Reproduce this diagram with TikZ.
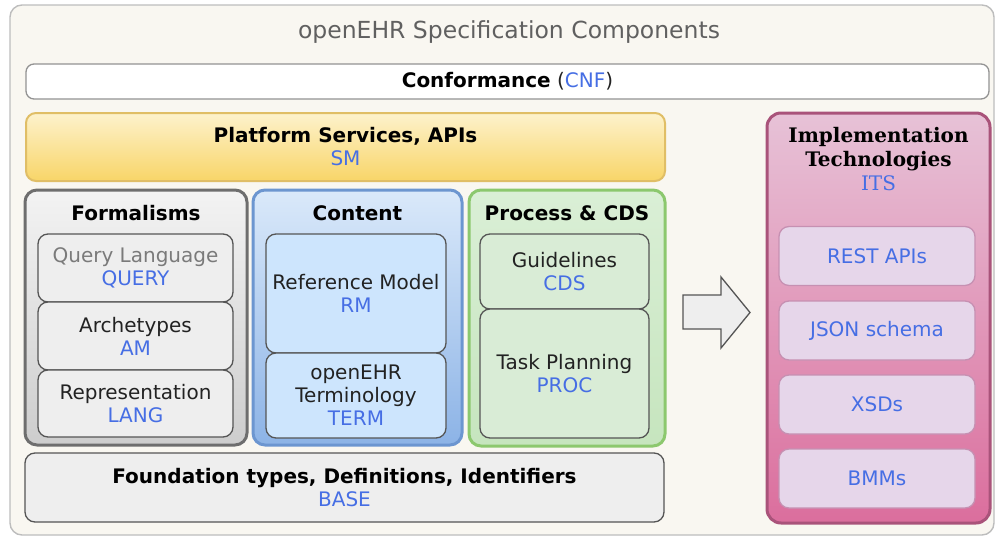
\documentclass[tikz,border=0pt]{standalone}
\usepackage{fontspec}
\setmainfont{DejaVu Sans}
\newfontfamily\itsserif{DejaVu Serif}
\definecolor{bgcream}{HTML}{F9F7F1}
\definecolor{bgborder}{HTML}{BDBDBD}
\definecolor{codeblue}{RGB}{70,110,228}
\definecolor{txt}{HTML}{222222}
\definecolor{qgray}{HTML}{7A7A7A}
\definecolor{titlegray}{HTML}{606060}
\definecolor{platTop}{HTML}{FDF2CC}
\definecolor{platBot}{HTML}{F8D568}
\definecolor{platBorder}{HTML}{E0BE66}
\definecolor{formTop}{HTML}{F3F3F3}
\definecolor{formBot}{HTML}{CDCDCD}
\definecolor{formBorder}{HTML}{6E6E6E}
\definecolor{innerGray}{HTML}{EEEEEE}
\definecolor{contTop}{HTML}{DAE9FA}
\definecolor{contBot}{HTML}{8CB3E6}
\definecolor{contBorder}{HTML}{6C96D0}
\definecolor{innerBlue}{HTML}{CDE5FD}
\definecolor{procTop}{HTML}{DAEFD6}
\definecolor{procBot}{HTML}{C6E5BE}
\definecolor{procBorder}{HTML}{8CC86E}
\definecolor{innerGreen}{HTML}{D9ECD6}
\definecolor{itsTop}{HTML}{E7C2D7}
\definecolor{itsBot}{HTML}{DB6E9D}
\definecolor{itsBorder}{HTML}{A9537A}
\definecolor{innerPink}{HTML}{E6D6EA}
\definecolor{innerPinkBorder}{HTML}{C690B2}
\definecolor{innerBorder}{HTML}{555555}
\begin{document}
\begin{tikzpicture}[x=1pt,y=-1pt,
  regtxt/.style={font=\fontsize{20}{23}\selectfont, text=txt, align=center},
  headtxt/.style={font=\bfseries\fontsize{20}{24}\selectfont, text=black, align=center},
  container/.style={rounded corners=12pt, line width=3pt, inner sep=0pt},
  innerbox/.style={draw=innerBorder, line width=1.3pt, rounded corners=10pt, inner sep=0pt, regtxt},
  graybox/.style={innerbox, fill=innerGray},
  bluebox/.style={innerbox, fill=innerBlue},
  greenbox/.style={innerbox, fill=innerGreen},
  pinkbox/.style={innerbox, fill=innerPink, draw=innerPinkBorder},
  code/.style={text=codeblue}
]
\useasboundingbox (0,0) rectangle (997,538);
% outer frame
\node[draw=bgborder, fill=bgcream, line width=1.4pt, rounded corners=12pt,
  minimum width=984pt, minimum height=530pt, inner sep=0pt] (outer) at (502,270) {};
\node[font=\fontsize{23.5}{27}\selectfont, text=titlegray] (title) at (509,32.5) {openEHR Specification Components};
% conformance
\node[draw=gray!85, fill=white, line width=1.3pt, rounded corners=8pt,
  minimum width=963pt, minimum height=35pt, inner sep=0pt, font=\fontsize{20}{24}\selectfont, text=txt]
  (cnf) at (507.5,81.5) {\textbf{\color{black}Conformance} (\textcolor{codeblue}{CNF})};
% platform
\node[draw=platBorder, top color=platTop, bottom color=platBot, line width=2pt, rounded corners=10pt,
  minimum width=639pt, minimum height=68pt, inner sep=0pt, headtxt]
  (sm) at (345.5,147) {Platform Services, APIs\\[-1pt]{\mdseries\fontsize{20}{23}\selectfont\color{codeblue}SM}};
% formalisms
\node[container, draw=formBorder, top color=formTop, bottom color=formBot,
  minimum width=222pt, minimum height=255pt] (form) at (136,317.5) {};
\node[headtxt] (formT) at (136,213) {Formalisms};
\node[graybox, minimum width=195pt, minimum height=68pt] (query) at (135.5,268)
  {\textcolor{qgray}{Query Language}\\\textcolor{codeblue}{QUERY}};
\node[graybox, minimum width=195pt, minimum height=68pt] (am) at (135.5,336)
  {Archetypes\\\textcolor{codeblue}{AM}};
\node[graybox, minimum width=195pt, minimum height=67pt] (lang) at (135.5,403.5)
  {Representation\\\textcolor{codeblue}{LANG}};
% content
\node[container, draw=contBorder, top color=contTop, bottom color=contBot,
  minimum width=209pt, minimum height=255pt] (cont) at (357.5,317.5) {};
\node[headtxt] (contT) at (357.5,213) {Content};
\node[bluebox, minimum width=180pt, minimum height=119pt] (rm) at (356,293.5)
  {Reference Model\\\textcolor{codeblue}{RM}};
\node[bluebox, minimum width=180pt, minimum height=85pt] (term) at (356,395.5)
  {openEHR\\Terminology\\\textcolor{codeblue}{TERM}};
% process
\node[container, draw=procBorder, top color=procTop, bottom color=procBot,
  minimum width=196pt, minimum height=256pt] (proc) at (567,318) {};
\node[headtxt] (procT) at (567,213) {Process \& CDS};
\node[greenbox, minimum width=169pt, minimum height=75pt] (cds) at (564.5,271.5)
  {Guidelines\\\textcolor{codeblue}{CDS}};
\node[greenbox, minimum width=169pt, minimum height=129pt] (task) at (564.5,373.5)
  {Task Planning\\\textcolor{codeblue}{PROC}};
% foundation
\node[draw=innerBorder, fill=innerGray, line width=1.3pt, rounded corners=10pt,
  minimum width=639pt, minimum height=69pt, inner sep=0pt, headtxt]
  (base) at (344.5,487.5) {Foundation types, Definitions, Identifiers\\[-1pt]{\mdseries\fontsize{20}{23}\selectfont\color{codeblue}BASE}};
% arrow
\draw[draw=innerBorder, fill=innerGray, line width=1.3pt, line join=miter]
  (683,295) -- (721,295) -- (721,277) -- (750,312.5) -- (721,348) -- (721,329) -- (683,329) -- cycle;
% ITS
\node[container, draw=itsBorder, top color=itsTop, bottom color=itsBot,
  minimum width=223pt, minimum height=410pt, rounded corners=14pt] (its) at (878.5,318) {};
\node[font=\itsserif\bfseries\fontsize{20}{24}\selectfont, text=black, align=center]
  (itsT) at (878.5,159) {Implementation\\Technologies\\{\mdseries\color{codeblue}ITS}};
\node[pinkbox, minimum width=196pt, minimum height=59pt, text=codeblue] (rest) at (877,256) {REST APIs};
\node[pinkbox, minimum width=196pt, minimum height=59pt, text=codeblue] (json) at (877,330.5) {JSON schema};
\node[pinkbox, minimum width=196pt, minimum height=59pt, text=codeblue] (xsd) at (877,404.5) {XSDs};
\node[pinkbox, minimum width=196pt, minimum height=59pt, text=codeblue] (bmm) at (877,478.5) {BMMs};
\end{tikzpicture}
\end{document}
